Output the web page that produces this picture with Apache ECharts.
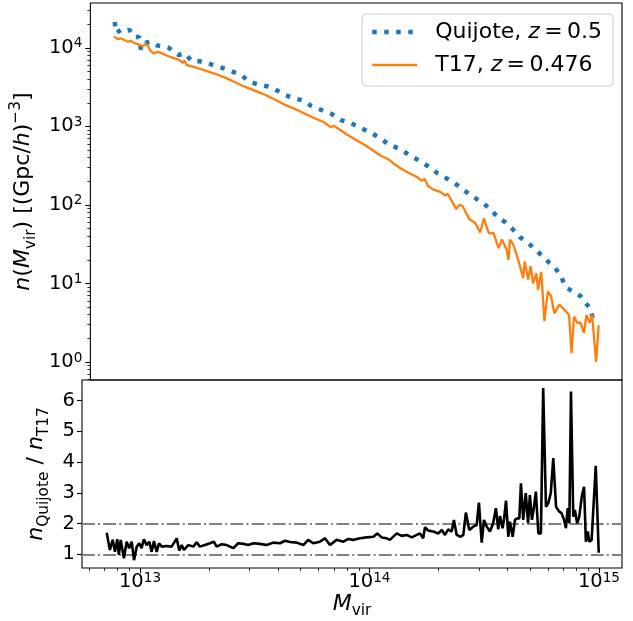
<!DOCTYPE html>
<html>
<head>
<meta charset="utf-8">
<script src="https://cdn.jsdelivr.net/npm/echarts@6/dist/echarts.min.js"></script>
<style>html,body{margin:0;padding:0;background:#fff;}#chart{width:633px;height:621px;}</style>
</head>
<body>
<div id="chart"></div>
<script>
// ---- data (log10 of halo mass, number density) ----
const quijoteLogM = [12.855,12.862,12.884,12.898,12.920,12.942,12.964,12.971,12.986,13.014,13.044,13.073,13.095,13.138,13.167,13.196,13.232,13.261,13.291,13.327,13.356,13.392,13.421,13.450,13.494,13.530,13.566,13.610,13.646,13.690,13.726,13.770,13.814,13.857,13.901,13.944,13.988,14.031,14.068,14.119,14.162,14.206,14.249,14.285,14.329,14.373,14.409,14.445,14.481,14.518,14.547,14.583,14.617,14.648,14.682,14.711,14.740,14.772,14.805,14.833,14.847,14.859,14.891,14.917,14.939,14.961,14.972,14.983,14.994];
const quijoteN = [21400,15500,17000,16200,17000,13800,13800,9550,11500,12000,10700,10500,10000,8130,8510,6760,6760,6460,6030,5620,5250,4790,4370,3720,3390,3240,2950,2510,2290,2140,1820,1620,1450,1200,1100,955,832,708,589,513,427,363,302,251,214,178,148,126,107,89.1,70.8,60.3,49.0,38.9,33.1,28.2,23.4,19.1,15.8,12.0,9.33,8.71,7.59,6.92,5.62,4.79,3.47,3.55,3.47];

const t17LogM = [12.852,12.869,12.884,12.898,12.913,12.927,12.942,12.964,12.978,12.993,13.003,13.012,13.026,13.044,13.065,13.087,13.116,13.138,13.157,13.164,13.174,13.203,13.247,13.300,13.349,13.390,13.436,13.480,13.523,13.565,13.610,13.654,13.697,13.740,13.784,13.810,13.825,13.850,13.886,13.922,13.959,13.995,14.031,14.068,14.089,14.118,14.155,14.191,14.213,14.227,14.242,14.264,14.293,14.319,14.329,14.344,14.366,14.381,14.394,14.410,14.424,14.451,14.473,14.489,14.511,14.532,14.554,14.569,14.590,14.598,14.605,14.620,14.641,14.663,14.670,14.685,14.696,14.707,14.721,14.729,14.743,14.757,14.772,14.786,14.801,14.823,14.837,14.866,14.877,14.888,14.903,14.917,14.932,14.943,14.958,14.968,14.986,14.997];
const t17N = [13900,12900,13200,12600,12000,12300,11500,11000,10500,11200,10500,9330,8510,8910,8510,7940,7410,7080,6460,6920,6030,5750,5250,4680,4120,3630,3160,2820,2510,2190,1880,1660,1450,1270,1120,977,1020,912,776,676,589,501,427,380,339,295,257,229,204,214,174,158,148,132,138,117,89.1,100,97.7,79.4,66.1,58.9,44.7,67.6,43.7,43.7,28.2,36.3,26.9,20.0,36.3,30.9,20.0,11.7,19.1,11.2,16.6,10.0,13.5,8.32,14.1,3.31,7.94,6.92,4.17,5.37,4.90,3.98,1.30,3.80,3.16,3.16,2.34,3.98,3.16,3.98,1.00,2.95];

const ratioLogM = [12.855,12.869,12.881,12.891,12.901,12.908,12.916,12.930,12.942,12.953,12.964,12.974,12.986,12.997,13.007,13.017,13.029,13.041,13.051,13.061,13.073,13.083,13.095,13.116,13.138,13.160,13.171,13.182,13.192,13.210,13.232,13.247,13.261,13.283,13.305,13.322,13.334,13.356,13.378,13.407,13.428,13.450,13.472,13.494,13.523,13.552,13.581,13.610,13.632,13.654,13.683,13.712,13.733,13.755,13.784,13.806,13.828,13.857,13.886,13.908,13.929,13.959,13.988,14.017,14.034,14.053,14.075,14.089,14.119,14.140,14.162,14.184,14.206,14.220,14.234,14.242,14.256,14.278,14.300,14.315,14.329,14.343,14.358,14.368,14.380,14.397,14.409,14.420,14.435,14.452,14.467,14.477,14.489,14.499,14.511,14.525,14.539,14.551,14.561,14.569,14.580,14.586,14.595,14.605,14.612,14.624,14.634,14.644,14.653,14.660,14.670,14.681,14.691,14.699,14.708,14.717,14.725,14.736,14.747,14.757,14.769,14.779,14.790,14.801,14.813,14.827,14.837,14.848,14.856,14.864,14.871,14.878,14.888,14.895,14.905,14.914,14.925,14.935,14.943,14.951,14.958,14.968,14.975,14.986,14.999];
const ratioVals = [1.70,1.14,1.47,1.08,1.49,0.98,1.47,0.87,1.41,1.20,1.41,0.81,1.25,1.36,1.20,1.49,1.30,1.41,1.08,1.43,1.08,1.36,1.25,1.27,1.25,1.52,1.12,1.30,1.14,1.30,1.25,1.39,1.25,1.30,1.36,1.41,1.25,1.33,1.30,1.20,1.36,1.34,1.30,1.36,1.34,1.30,1.38,1.36,1.44,1.40,1.38,1.30,1.47,1.36,1.41,1.52,1.30,1.47,1.41,1.50,1.47,1.52,1.55,1.57,1.68,1.55,1.52,1.47,1.68,1.60,1.63,1.55,1.63,1.68,1.52,1.88,1.77,1.74,1.68,1.79,1.63,1.81,1.74,2.12,1.63,1.57,1.63,2.36,1.79,1.90,1.95,2.68,1.38,2.12,1.90,1.74,2.01,2.50,1.81,2.25,1.85,2.12,2.75,1.57,2.06,1.57,2.12,2.17,2.17,3.31,2.12,2.99,2.01,2.93,2.12,2.55,3.04,1.68,1.68,6.41,2.55,2.66,2.99,4.13,2.55,2.39,2.34,2.12,1.85,2.50,2.01,6.30,2.22,2.44,2.01,2.22,2.88,3.20,1.41,1.74,1.41,1.47,1.41,3.88,1.05];

const refLines = [1, 2];

// ---- tick positions ----
const xMajorTicks = [1e13, 1e14, 1e15];
const xMinorTicks = [6e12,7e12,8e12,9e12,2e13,3e13,4e13,5e13,6e13,7e13,8e13,9e13,2e14,3e14,4e14,5e14,6e14,7e14,8e14,9e14];
const yMajorTicks = [1, 10, 100, 1000, 10000];
const yMinorTicks = [0.6,0.7,0.8,0.9,2,3,4,5,6,7,8,9,20,30,40,50,60,70,80,90,200,300,400,500,600,700,800,900,2000,3000,4000,5000,6000,7000,8000,9000,20000,30000];
const ratioTicks = [1, 2, 3, 4, 5, 6];

// ---- axis ranges ----
const X_MIN = 5.59e12, X_MAX = 1.26e15;
const Y_MIN = 0.59, Y_MAX = 3.73e4;
const R_MIN = 0.554, R_MAX = 6.674;

const FONT = "'DejaVu Sans', sans-serif";
const toPairs = (lm, v) => lm.map((m, i) => [Math.pow(10, m), v[i]]);

const powRich = {
  b: { fontFamily: FONT, fontSize: 19.5, lineHeight: 22, color: '#000' },
  s: { fontFamily: FONT, fontSize: 13.6, lineHeight: 13, verticalAlign: 'top', color: '#000' }
};
const powFmt = v => '{b|10}{s|' + Math.round(Math.log10(v)) + '}';

const nameRich = {
  t: { fontFamily: FONT, fontSize: 22, lineHeight: 30, color: '#000' },
  i: { fontFamily: FONT, fontSize: 22, lineHeight: 30, fontStyle: 'italic', color: '#000' },
  sub: { fontFamily: FONT, fontSize: 15.4, lineHeight: 18, verticalAlign: 'bottom', color: '#000' },
  sup: { fontFamily: FONT, fontSize: 15.4, lineHeight: 16, verticalAlign: 'top', color: '#000' }
};

const tickStyle = { color: '#000', width: 1.1 };
const minorStyle = { color: '#000', width: 0.8 };
const quijoteLine = { color: '#1f77b4', width: 4.5, type: [4.5, 7.5], cap: 'butt' };
const t17Line = { color: '#ff7f0e', width: 2.3 };

const chart = echarts.init(document.getElementById('chart'), null, { renderer: 'canvas' });
chart.setOption({
  animation: false,
  backgroundColor: '#fff',
  grid: [
    { left: 82, right: 11, top: 3, height: 377, show: true, borderColor: '#000', borderWidth: 1.1, backgroundColor: 'transparent' },
    { left: 82, right: 11, top: 380, height: 188, show: true, borderColor: '#000', borderWidth: 1.1, backgroundColor: 'transparent' }
  ],
  xAxis: [
    { gridIndex: 0, type: 'log', min: X_MIN, max: X_MAX, axisLine: { show: false }, axisTick: { show: false }, axisLabel: { show: false }, splitLine: { show: false } },
    { gridIndex: 1, type: 'log', min: X_MIN, max: X_MAX, position: 'bottom',
      axisLine: { show: false }, splitLine: { show: false },
      axisTick: { show: true, length: 5, lineStyle: tickStyle, customValues: xMajorTicks },
      axisLabel: { show: true, margin: 3, customValues: xMajorTicks, formatter: powFmt, rich: powRich },
      name: '{i|M}{sub|vir}', nameLocation: 'middle', nameGap: 12,
      nameTextStyle: { fontFamily: FONT, color: '#000', rich: nameRich } },
    { gridIndex: 1, type: 'log', min: X_MIN, max: X_MAX, position: 'bottom',
      axisLine: { show: false }, splitLine: { show: false }, axisLabel: { show: false },
      axisTick: { show: true, length: 3, lineStyle: minorStyle, customValues: xMinorTicks } }
  ],
  yAxis: [
    { gridIndex: 0, type: 'log', min: Y_MIN, max: Y_MAX, position: 'left',
      axisLine: { show: false }, splitLine: { show: false },
      axisTick: { show: true, length: 5, lineStyle: tickStyle, customValues: yMajorTicks },
      axisLabel: { show: true, margin: 8, customValues: yMajorTicks, formatter: powFmt, rich: powRich },
      name: '{i|n}{t|(}{i|M}{sub|vir}{t|) [(Gpc/}{i|h}{t|)}{sup|\u22123}{t|]}', nameLocation: 'middle', nameRotate: 90, nameGap: 36,
      nameTextStyle: { fontFamily: FONT, color: '#000', rich: nameRich } },
    { gridIndex: 0, type: 'log', min: Y_MIN, max: Y_MAX, position: 'left',
      axisLine: { show: false }, splitLine: { show: false }, axisLabel: { show: false },
      axisTick: { show: true, length: 3, lineStyle: minorStyle, customValues: yMinorTicks } },
    { gridIndex: 1, type: 'value', min: R_MIN, max: R_MAX, position: 'left',
      axisLine: { show: false }, splitLine: { show: false },
      axisTick: { show: true, length: 5, lineStyle: tickStyle, customValues: ratioTicks },
      axisLabel: { show: true, margin: 7, customValues: ratioTicks, fontFamily: FONT, fontSize: 19.5, color: '#000' },
      name: '{i|n}{sub|Quijote}{t| / }{i|n}{sub|T17}', nameLocation: 'middle', nameRotate: 90, nameGap: 31,
      nameTextStyle: { fontFamily: FONT, color: '#000', rich: nameRich } }
  ],
  legend: {
    data: [
      { name: 'Quijote', lineStyle: quijoteLine },
      { name: 'T17', lineStyle: t17Line }
    ],
    orient: 'vertical', left: 362, top: 14,
    padding: [7, 11, 10, 8], itemGap: 11, itemWidth: 45, itemHeight: 14,
    backgroundColor: 'rgba(255,255,255,0.8)', borderColor: '#cccccc', borderWidth: 1, borderRadius: 4,
    selectedMode: false,
    itemStyle: { opacity: 0 },
    formatter: n => n === 'Quijote' ? '{t|Quijote, }{i|z}{t|\u2009=\u20090.5}' : '{t|T17, }{i|z}{t|\u2009=\u20090.476}',
    textStyle: { fontFamily: FONT, fontSize: 22, color: '#000', padding: [0, 0, 0, 13],
      rich: { t: { fontFamily: FONT, fontSize: 22, lineHeight: 22, color: '#000' }, i: { fontFamily: FONT, fontSize: 22, lineHeight: 22, fontStyle: 'italic', color: '#000' } } }
  },
  series: [
    { name: 'Quijote', type: 'line', xAxisIndex: 0, yAxisIndex: 0, data: toPairs(quijoteLogM, quijoteN),
      symbol: 'none', showSymbol: false, z: 2,
      lineStyle: quijoteLine, itemStyle: { color: '#1f77b4' } },
    { name: 'T17', type: 'line', xAxisIndex: 0, yAxisIndex: 0, data: toPairs(t17LogM, t17N),
      symbol: 'none', showSymbol: false, z: 3,
      lineStyle: t17Line, itemStyle: { color: '#ff7f0e' } },
    { name: 'ratio', type: 'line', xAxisIndex: 1, yAxisIndex: 2, data: toPairs(ratioLogM, ratioVals),
      symbol: 'none', showSymbol: false, z: 3,
      lineStyle: { color: '#000', width: 2.6 }, itemStyle: { color: '#000' },
      markLine: { silent: true, symbol: 'none', label: { show: false }, z: 2,
        lineStyle: { color: '#808080', width: 2, type: [12.8, 3.2, 2, 3.2] },
        data: refLines.map(v => ({ yAxis: v })) } }
  ]
});
</script>
</body>
</html>
